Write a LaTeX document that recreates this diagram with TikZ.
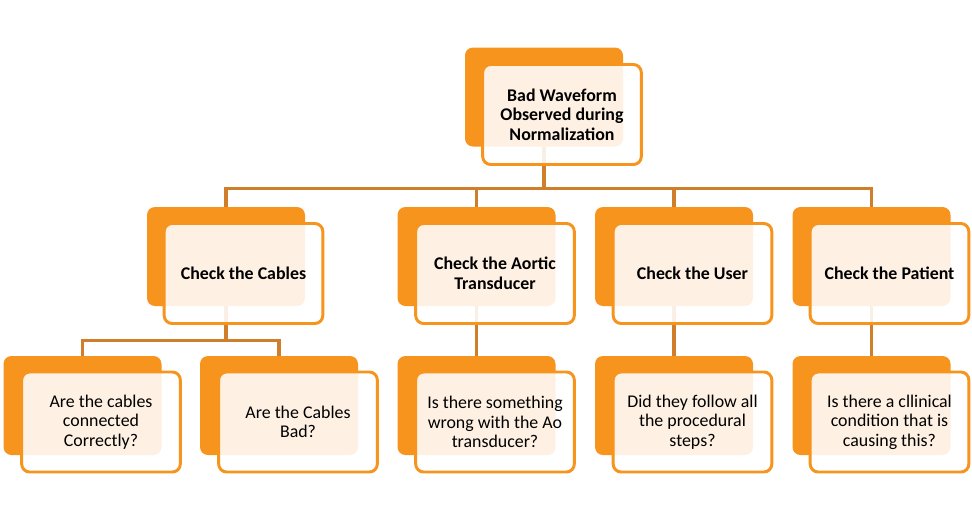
\documentclass[tikz,border=0pt]{standalone}
\usepackage{fontspec}
\setmainfont{Carlito}
\definecolor{boxorange}{RGB}{247,148,29}
\definecolor{connorange}{RGB}{208,126,42}
\begin{document}
\begin{tikzpicture}[x=0.75pt,y=-0.75pt,
  backbox/.style={fill=boxorange, draw=none, rounded corners=6pt, minimum width=118.5pt, minimum height=74.25pt, inner sep=0pt},
  frontbox/.style={draw=boxorange, line width=2.2pt, fill=white, fill opacity=0.88, text opacity=1, rounded corners=6pt, minimum width=119pt, minimum height=75pt, inner sep=0pt, align=center, font=\fontsize{13.4}{14.6}\selectfont},
  headbox/.style={frontbox, font=\fontsize{13.4}{14.6}\selectfont\bfseries},
  conn/.style={draw=connorange, line width=2.3pt}]
\useasboundingbox (0,0) rectangle (972,529);
\fill[white] (0,0) rectangle (972,529);
% back boxes
\node[backbox] (b0) at (544,97) {};
\node[backbox] (b1) at (226,256.5) {};
\node[backbox] (b2) at (476.5,256.5) {};
\node[backbox] (b3) at (674,256.5) {};
\node[backbox] (b4) at (871.5,256.5) {};
\node[backbox] (c1) at (82.5,405.5) {};
\node[backbox] (c2) at (279,405.5) {};
\node[backbox] (c3) at (476.5,405.5) {};
\node[backbox] (c4) at (674,405.5) {};
\node[backbox] (c5) at (871.5,405.5) {};
% connectors
\draw[conn] (b0.south) -- ++(0,42) -| (b1.north);
\draw[conn] (b0.south) -- ++(0,42) -| (b2.north);
\draw[conn] (b0.south) -- ++(0,42) -| (b3.north);
\draw[conn] (b0.south) -- ++(0,42) -| (b4.north);
\draw[conn] (b1.south) -- ++(0,34) -| (c1.north);
\draw[conn] (b1.south) -- ++(0,34) -| (c2.north);
\draw[conn] (b2.south) -- (c3.north);
\draw[conn] (b3.south) -- (c4.north);
\draw[conn] (b4.south) -- (c5.north);
% front boxes
\node[headbox] (f0) at (562,114.5) {Bad Waveform\\Observed during\\Normalization};
\node[headbox] (f1) at (243.5,273.5) {Check the Cables};
\node[headbox] (f2) at (495,273.5) {Check the Aortic\\Transducer};
\node[headbox] (f3) at (692.5,273.5) {Check the User};
\node[headbox] (f4) at (889.5,273.5) {Check the Patient};
\node[frontbox] (g1) at (101,422) {Are the cables\\connected\\Correctly?};
\node[frontbox] (g2) at (298,422) {Are the Cables\\Bad?};
\node[frontbox] (g3) at (495,422) {Is there something\\wrong with the Ao\\transducer?};
\node[frontbox] (g4) at (692.5,422) {Did they follow all\\the procedural\\steps?};
\node[frontbox] (g5) at (889.5,422) {Is there a cllinical\\condition that is\\causing this?};
\end{tikzpicture}
\end{document}
